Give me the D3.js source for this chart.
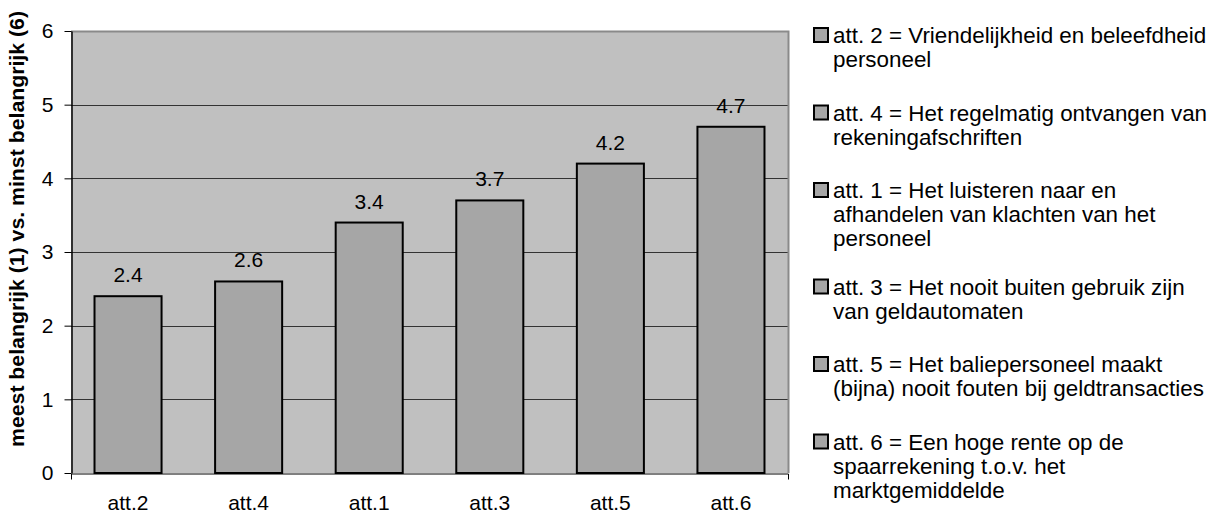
<!DOCTYPE html>
<html>
<head>
<meta charset="utf-8">
<script src="https://cdn.jsdelivr.net/npm/d3@7"></script>
<style>
  html, body { margin: 0; padding: 0; background: #ffffff; }
  svg { display: block; font-family: "Liberation Sans", Arial, sans-serif; }
</style>
</head>
<body>
<svg id="chart" width="1215" height="516"></svg>
<script>
// Attribute codes in ranking order, with their mean rank scores
const categories = ["att.2", "att.4", "att.1", "att.3", "att.5", "att.6"];
const values = [2.4, 2.6, 3.4, 3.7, 4.2, 4.7];
const yTicks = [0, 1, 2, 3, 4, 5, 6];

// Legend descriptions, already broken into display lines
const legendLines = [
  ["att. 2 = Vriendelijkheid en beleefdheid", "personeel"],
  ["att. 4 = Het regelmatig ontvangen van", "rekeningafschriften"],
  ["att. 1 = Het luisteren naar en", "afhandelen van klachten van het", "personeel"],
  ["att. 3 = Het nooit buiten gebruik zijn", "van geldautomaten"],
  ["att. 5 = Het baliepersoneel maakt", "(bijna) nooit fouten bij geldtransacties"],
  ["att. 6 = Een hoge rente op de", "spaarrekening t.o.v. het", "marktgemiddelde"]
];

const yTitle = "meest belangrijk (1) vs. minst belangrijk (6)";

const FONT = "'Liberation Sans', Arial, sans-serif";
const svg = d3.select("#chart");
const plot = { left: 71, right: 788, top: 31, bottom: 473 };

const x = d3.scaleBand()
  .domain(categories)
  .range([plot.left, plot.right])
  .paddingInner(0.444)
  .paddingOuter(0.195);

const y = d3.scaleLinear()
  .domain([0, 6])
  .range([plot.bottom, plot.top]);

// Plot background
svg.append("rect")
  .attr("x", plot.left)
  .attr("y", plot.top)
  .attr("width", plot.right - plot.left)
  .attr("height", plot.bottom - plot.top)
  .attr("fill", "#c0c0c0");

// Horizontal gridlines
svg.append("g")
  .selectAll("line")
  .data(yTicks.filter(d => d > 0 && d < 6))
  .join("line")
  .attr("x1", plot.left)
  .attr("x2", plot.right)
  .attr("y1", d => Math.round(y(d)) + 0.5)
  .attr("y2", d => Math.round(y(d)) + 0.5)
  .attr("stroke", "#333333")
  .attr("stroke-width", 1);

// Top and right border of the plot area
svg.append("path")
  .attr("d", `M${plot.left},${plot.top + 0.5}H${plot.right + 0.5}V${plot.bottom}`)
  .attr("fill", "none")
  .attr("stroke", "#8a8a8a")
  .attr("stroke-width", 2);

// Bars
svg.append("g")
  .selectAll("rect")
  .data(values)
  .join("rect")
  .attr("x", (d, i) => x(categories[i]))
  .attr("y", d => y(d))
  .attr("width", x.bandwidth())
  .attr("height", d => y(0) - y(d))
  .attr("fill", "#a6a6a6")
  .attr("stroke", "#000000")
  .attr("stroke-width", 2);

// Value labels
svg.append("g")
  .selectAll("text")
  .data(values)
  .join("text")
  .attr("x", (d, i) => x(categories[i]) + x.bandwidth() / 2)
  .attr("y", d => y(d) - 14)
  .attr("text-anchor", "middle")
  .attr("font-size", 21)
  .attr("fill", "#000")
  .text(d => d.toFixed(1));

// Y axis
const yAxis = d3.axisLeft(y)
  .tickValues(yTicks)
  .tickFormat(d3.format("d"))
  .tickSize(7)
  .tickSizeOuter(0)
  .tickPadding(11);
const gy = svg.append("g")
  .attr("transform", `translate(${plot.left + 0.5},0)`)
  .call(yAxis);
gy.select(".domain").attr("stroke", "#000").attr("stroke-width", 1.5);
gy.selectAll(".tick line").attr("stroke", "#000");
gy.selectAll(".tick text")
  .attr("font-size", 21)
  .attr("font-family", FONT)
  .attr("fill", "#000");

// X axis: baseline with ticks at the outer edges only
const xAxis = d3.axisBottom(x).tickSize(0).tickSizeOuter(6).tickPadding(22);
const gx = svg.append("g")
  .attr("transform", `translate(0,${plot.bottom + 0.5})`)
  .call(xAxis);
gx.select(".domain").attr("stroke", "#000").attr("stroke-width", 1);
gx.selectAll(".tick text")
  .attr("font-size", 21)
  .attr("font-family", FONT)
  .attr("fill", "#000");

// Y axis title
svg.append("text")
  .attr("transform", `translate(24,229) rotate(-90)`)
  .attr("text-anchor", "middle")
  .attr("font-size", 20)
  .attr("font-weight", "bold")
  .attr("textLength", 436)
  .attr("lengthAdjust", "spacingAndGlyphs")
  .attr("fill", "#000")
  .text(yTitle);

// Legend
const legend = svg.append("g");
const lineH = 24;
const entries = legend.selectAll("g")
  .data(legendLines)
  .join("g")
  .attr("transform", (d, i) => `translate(813,${27 + 77.5 * i + (i >= 3 ? 19 : 0)})`);
entries.append("rect")
  .attr("x", 1)
  .attr("y", 1)
  .attr("width", 14)
  .attr("height", 14)
  .attr("fill", "#a6a6a6")
  .attr("stroke", "#000")
  .attr("stroke-width", 2);
entries.append("text")
  .attr("x", 20)
  .attr("y", 16)
  .attr("font-size", 22.4)
  .attr("fill", "#000")
  .selectAll("tspan")
  .data(d => d)
  .join("tspan")
  .attr("x", 20)
  .attr("dy", (d, i) => i === 0 ? 0 : lineH)
  .text(d => d);
</script>
</body>
</html>
